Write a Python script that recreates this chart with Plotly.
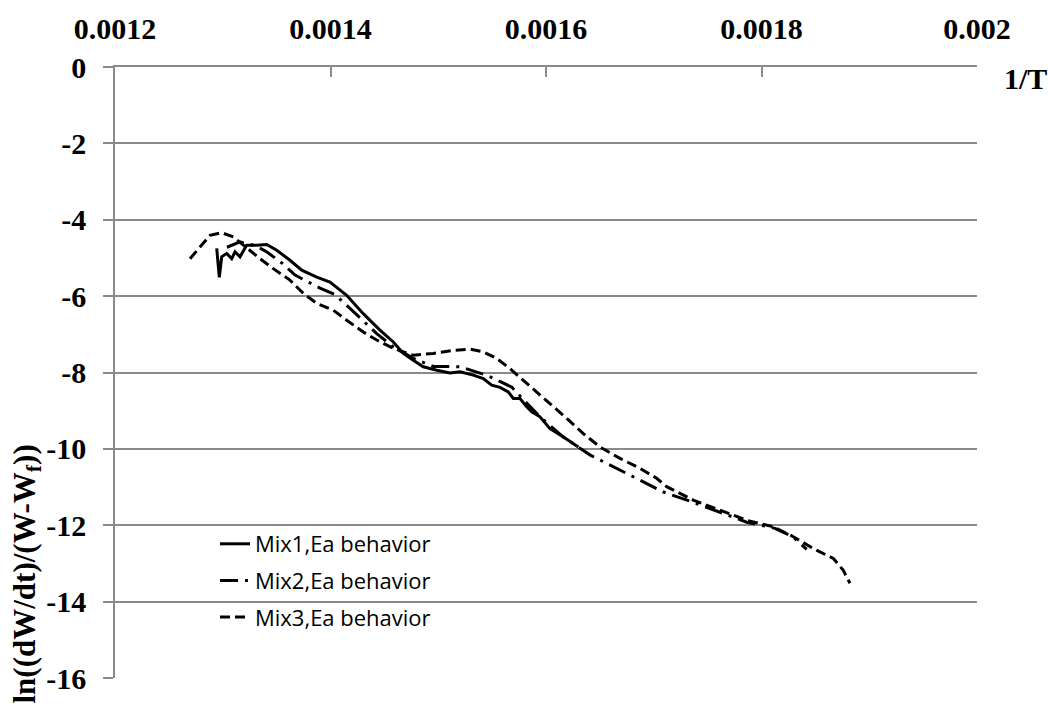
import plotly.graph_objects as go

# ---- data ----
mix1_x = [0.0012944, 0.0012968, 0.0012990, 0.0013037, 0.0013083, 0.0013114, 0.0013160, 0.0013191,
          0.0013222, 0.0013315, 0.0013408, 0.0013501, 0.0013624, 0.0013733, 0.0013872, 0.0013995,
          0.0014150, 0.0014304, 0.0014459, 0.0014583, 0.0014676, 0.0014768, 0.0014861, 0.0014986,
          0.0015109, 0.0015202, 0.0015325, 0.0015418, 0.0015496, 0.0015573, 0.0015650, 0.0015697,
          0.0015759, 0.0015821, 0.0015867, 0.0015944, 0.0016006, 0.0016037, 0.0016161, 0.0016300]
mix1_y = [-4.75, -5.51, -4.97, -4.88, -5.02, -4.84, -4.97, -4.80,
          -4.67, -4.67, -4.65, -4.80, -5.06, -5.32, -5.50, -5.63,
          -5.98, -6.46, -6.89, -7.20, -7.50, -7.68, -7.85, -7.94,
          -8.01, -7.98, -8.07, -8.16, -8.33, -8.39, -8.51, -8.68,
          -8.68, -8.90, -9.03, -9.16, -9.35, -9.47, -9.69, -9.95]

mix2_x = [0.0013039, 0.0013160, 0.0013315, 0.0013408, 0.0013556, 0.0013671, 0.0013903, 0.0014042,
          0.0014150, 0.0014429, 0.0014583, 0.0014768, 0.0014954, 0.0015063, 0.0015202, 0.0015449,
          0.0015542, 0.0015681, 0.0015821, 0.0015944, 0.0016161, 0.0016300, 0.0016415, 0.0016563,
          0.0016811, 0.0017090, 0.0017367, 0.0017615, 0.0017863, 0.0018125, 0.0018295, 0.0018419]
mix2_y = [-4.72, -4.58, -4.69, -4.84, -5.15, -5.45, -5.79, -5.96,
          -6.24, -6.98, -7.33, -7.63, -7.84, -7.85, -7.85, -8.07,
          -8.20, -8.38, -8.80, -9.16, -9.69, -9.95, -10.17, -10.38,
          -10.73, -11.13, -11.40, -11.65, -11.92, -12.08, -12.31, -12.63]

mix3_x = [0.0012696, 0.0012882, 0.0012990, 0.0013098, 0.0013346, 0.0013469, 0.0013624, 0.0013748,
          0.0013872, 0.0014026, 0.0014150, 0.0014304, 0.0014429, 0.0014583, 0.0014768, 0.0014954,
          0.0015140, 0.0015295, 0.0015418, 0.0015542, 0.0015666, 0.0015789, 0.0015914, 0.0016068,
          0.0016192, 0.0016346, 0.0016501, 0.0016687, 0.0016872, 0.0017027, 0.0017120, 0.0017367,
          0.0017615, 0.0017863, 0.0018110, 0.0018295, 0.0018481, 0.0018667, 0.0018759, 0.0018821]
mix3_y = [-5.02, -4.41, -4.34, -4.45, -5.02, -5.28, -5.58, -5.93,
          -6.19, -6.37, -6.63, -6.94, -7.15, -7.37, -7.55, -7.50,
          -7.42, -7.39, -7.46, -7.63, -7.90, -8.20, -8.51, -8.90,
          -9.20, -9.60, -9.95, -10.25, -10.51, -10.77, -10.99, -11.34,
          -11.60, -11.87, -12.04, -12.30, -12.61, -12.87, -13.18, -13.52]

series_names = ["Mix1,Ea behavior", "Mix2,Ea behavior", "Mix3,Ea behavior"]

x_tick_vals = [0.0012, 0.0014, 0.0016, 0.0018, 0.002]
x_tick_labels = ["0.0012", "0.0014", "0.0016", "0.0018", "0.002"]
y_tick_vals = [0, -2, -4, -6, -8, -10, -12, -14, -16]
y_tick_labels = ["0", "-2", "-4", "-6", "-8", "-10", "-12", "-14", "-16"]

x_title = "1/T"
y_title = "ln((dW/dt)/(W-W<sub>f</sub>))"

# ---- figure ----
W, H = 1048, 706
ML, MR, MT, MB = 115, 71, 67, 28
PW, PH = W - ML - MR, H - MT - MB
serif = "Liberation Serif, Times New Roman, serif"
grid = "#8a8a8a"

fig = go.Figure()
fig.add_trace(go.Scatter(x=mix1_x, y=mix1_y, mode="lines", name=series_names[0],
                         legendgroup="a", line=dict(color="black", width=3)))
fig.add_trace(go.Scatter(x=mix2_x, y=mix2_y, mode="lines", name=series_names[1],
                         legendgroup="b", line=dict(color="black", width=3, dash="18px,7px,3px,7px")))
fig.add_trace(go.Scatter(x=mix3_x, y=mix3_y, mode="lines", name=series_names[2],
                         legendgroup="c", line=dict(color="black", width=3, dash="10px,5px")))

fig.update_layout(
    width=W, height=H,
    margin=dict(l=ML, r=MR, t=MT, b=MB, autoexpand=False),
    paper_bgcolor="white", plot_bgcolor="white",
    showlegend=True,
    legend=dict(x=(215 - ML) / PW, y=(H - MB - 523) / PH,
                xanchor="left", yanchor="top", bgcolor="rgba(255,255,255,0)",
                font=dict(family="Open Sans, sans-serif", size=22, color="black"),
                traceorder="grouped", tracegroupgap=5),
    xaxis=dict(range=[0.0012, 0.002], side="top", showline=True, linecolor=grid, linewidth=1.5,
               showgrid=False, zeroline=False, ticks="inside", ticklen=10, tickcolor=grid,
               tickwidth=1.5, tickvals=x_tick_vals, ticktext=x_tick_labels,
               tickfont=dict(family=serif, size=30, color="black", weight="bold"),
               ticklabelstandoff=14),
    yaxis=dict(range=[-16, 0], showline=True, linecolor=grid, linewidth=1.5,
               showgrid=True, gridcolor=grid, gridwidth=1.5, zeroline=False,
               ticks="outside", ticklen=10, tickcolor=grid, tickwidth=1.5,
               tickvals=y_tick_vals, ticktext=y_tick_labels,
               tickfont=dict(family=serif, size=30, color="black", weight="bold"),
               ticklabelstandoff=11),
    annotations=[
        dict(text=x_title, xref="paper", yref="paper",
             x=(1002 - ML) / PW, y=(H - MB - 79) / PH,
             xanchor="left", yanchor="middle", showarrow=False,
             font=dict(family=serif, size=30, color="black", weight="bold")),
        dict(text=y_title, xref="paper", yref="paper", textangle=-90,
             x=(26 - ML) / PW, y=(H - MB - 443) / PH,
             xanchor="center", yanchor="top", showarrow=False,
             font=dict(family=serif, size=31, color="black", weight="bold")),
    ],
)

fig.write_html("out.html", config={"displayModeBar": False},
               post_script="document.body.style.margin='0';")
